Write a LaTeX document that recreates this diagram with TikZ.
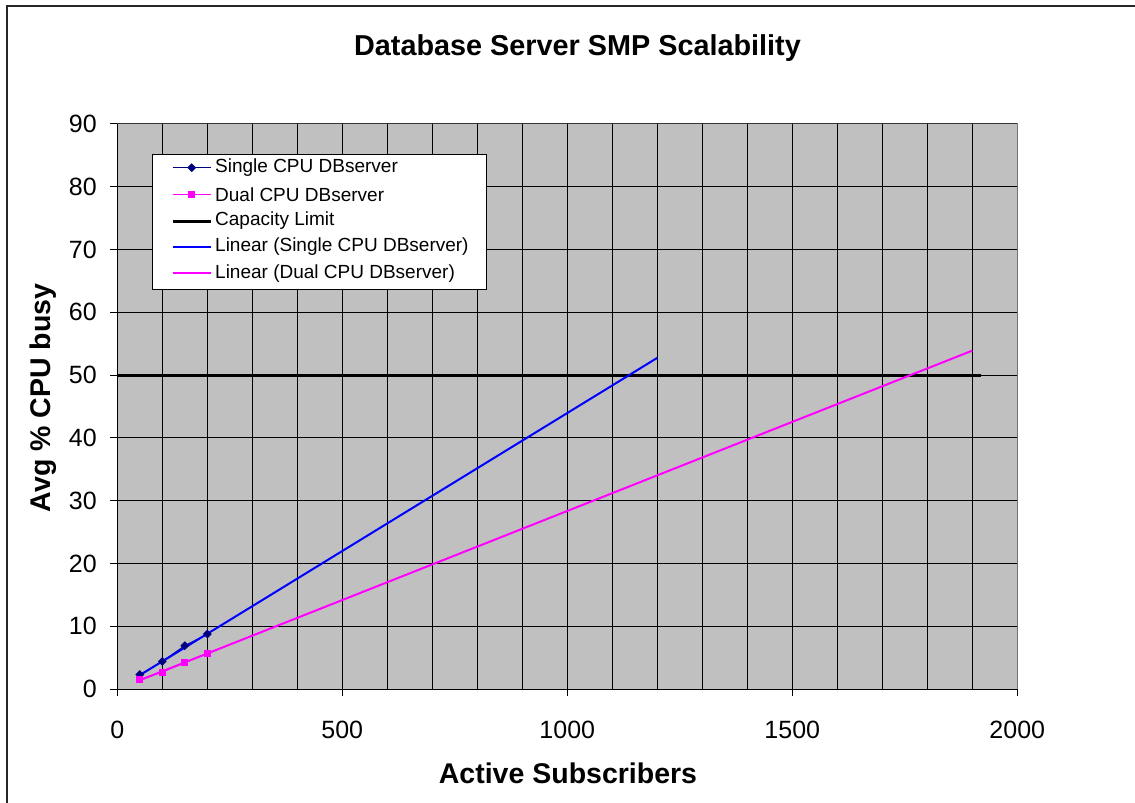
\documentclass[tikz,border=0pt]{standalone}
\usepackage{fontspec}
\setmainfont{Liberation Sans}
\usetikzlibrary{positioning,shapes.geometric}
\definecolor{plotgray}{RGB}{192,192,192}
\definecolor{navyline}{RGB}{0,0,128}
\definecolor{pinkline}{RGB}{255,0,255}
\definecolor{blueline}{RGB}{0,0,255}

\begin{document}
\begin{tikzpicture}[
  x=1pt, y=-1pt,
  ticklabel/.style={font=\fontsize{25}{30}\selectfont, inner sep=0pt},
  axislabel/.style={font=\fontsize{28.5}{34}\selectfont\bfseries, inner sep=0pt, anchor=base},
  legendtext/.style={font=\fontsize{19}{23}\selectfont, anchor=west, inner sep=0pt},
  gridline/.style={draw=black, line width=1pt},
  singlemark/.style={diamond, fill=navyline, inner sep=0pt, minimum size=9pt},
  dualmark/.style={rectangle, fill=pinkline, inner sep=0pt, minimum size=7pt}
]
\useasboundingbox (0,0) rectangle (1135,803);
% chart frame
\draw[line width=2pt, black!85] (7,803) -- (7,6) -- (1135,6);
\node[font=\fontsize{28.8}{34}\selectfont\bfseries, anchor=base, inner sep=0pt] (title) at (577.5,55) {Database Server SMP Scalability};

% plot area in data units
\begin{scope}[shift={(117.3,689)}, x=0.45pt, y=6.278pt]
  \fill[plotgray] (0,0) rectangle (2000,90);
  \draw[black!55, line width=1pt] (0,90) -- (2000,90) -- (2000,0);
  \foreach \gx in {100,200,...,1900}
    \draw[gridline] (\gx,0) -- (\gx,90);
  \foreach \gy in {10,20,...,80}
    \draw[gridline] (0,\gy) -- (2000,\gy);
  \draw[black!80, line width=1pt] (0,90) -- (2000,90);
  % axes and ticks
  \draw[line width=1pt] (0,90) -- (0,0) -- (2000,0);
  \foreach \v in {0,10,...,90} {
    \draw[line width=1pt] (0,\v) -- ++(-7pt,0);
    \node[ticklabel, anchor=east, xshift=-20.3pt] at (0,\v) {\v};
  }
  \foreach \d in {0,500,1000,1500,2000} {
    \draw[line width=1pt] (\d,0) -- ++(0,-7pt);
    \node[ticklabel, yshift=-41pt] at (\d,0) {\d};
  }
  % capacity limit
  \draw[black, line width=3pt] (0,50) -- (1920,50);
  % measured points
  \draw[navyline, line width=1pt] (50,2.3) -- (100,4.4) -- (150,6.9) -- (200,8.75);
  \draw[pinkline, line width=1pt] (50,1.5) -- (100,2.7) -- (150,4.2) -- (200,5.7);
  % trend lines
  \draw[blueline, line width=2pt] (50,2.2) -- (1200,52.75);
  \draw[pinkline, line width=2pt] (50,1.4) -- (1900,53.9);
  \foreach \px/\py [count=\i] in {50/2.3,100/4.4,150/6.9,200/8.75}
    \node[singlemark] (s\i) at (\px,\py) {};
  \foreach \px/\py [count=\i] in {50/1.5,100/2.7,150/4.2,200/5.7}
    \node[dualmark] (d\i) at (\px,\py) {};
\end{scope}

\node[axislabel, rotate=90] (ylabel) at (50,398) {Avg \% CPU busy};
\node[axislabel] (xlabel) at (568,783) {Active Subscribers};

% legend
\node[draw=black, fill=white, line width=1pt, inner sep=0pt,
  minimum width=333.3pt, minimum height=135pt] (legend) at (319.4,221.5) {};
\draw[navyline, line width=1pt] (172.7,167.7) -- (210.7,167.7);
\node[singlemark] (lsingle) at (191.7,167.7) {};
\draw[pinkline, line width=1pt] (172.7,194.3) -- (210.7,194.3);
\node[dualmark] (ldual) at (191.7,194.3) {};
\draw[black, line width=3pt] (172.7,221) -- (210.7,221);
\draw[blueline, line width=2pt] (172.7,246.7) -- (210.7,246.7);
\draw[pinkline, line width=2pt] (172.7,273.3) -- (210.7,273.3);
\foreach \ty/\txt [count=\i] in {167.7/Single CPU DBserver, 194.3/Dual CPU DBserver,
    221/Capacity Limit, 246.7/Linear (Single CPU DBserver), 273.3/Linear (Dual CPU DBserver)}
  \node[legendtext] (entry\i) at (215,\ty) {\txt};
\end{tikzpicture}
\end{document}
